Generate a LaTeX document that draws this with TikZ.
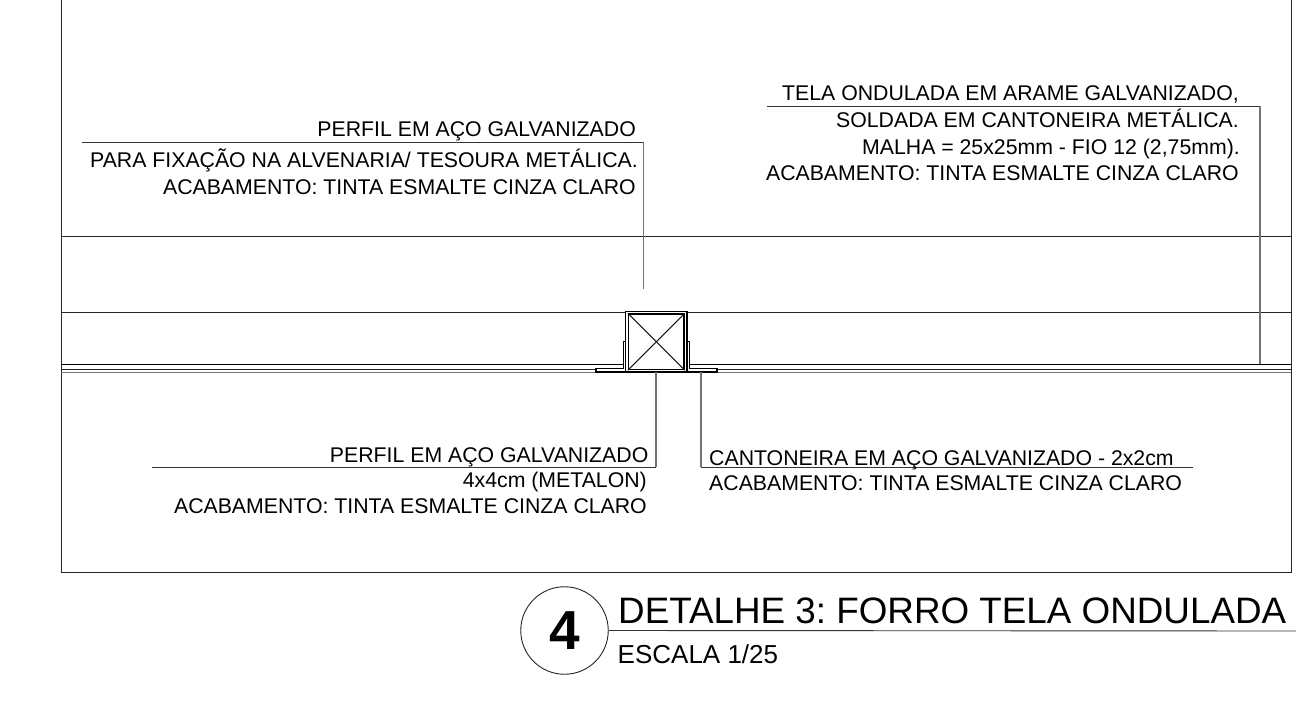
\documentclass[tikz,border=0pt]{standalone}
\usepackage{fontspec}
\setmainfont{Liberation Sans}
\frenchspacing
\tikzset{
  x=1pt,y=-1pt,
  note/.style={inner sep=0pt,font=\fontsize{21.27}{24}\selectfont,anchor=base east},
  noteL/.style={inner sep=0pt,font=\fontsize{21.27}{24}\selectfont,anchor=base west},
  thin line/.style={draw=black!85,line width=0.9pt},
  heavy line/.style={draw=black,line width=1.5pt},
  leader/.style={draw=black!55,line width=1.2pt},
  leaderh/.style={draw=black!80,line width=0.9pt},
}
\begin{document}
\begin{tikzpicture}
\useasboundingbox[fill=white] (0,0) rectangle (1306,701);
% frame
\coordinate (ftl) at (61,-2); \coordinate (fbl) at (61,572);
\coordinate (ftr) at (1291,-2); \coordinate (fbr) at (1291,572);
\draw[thin line,line width=1pt] (ftl) -- (fbl) -- (fbr) -- (ftr);
% horizontals
\draw[thin line] (61,236) -- (1291,236);
\draw[thin line] (61,312) -- (626,312);
\draw[thin line] (687,312) -- (1291,312);
\draw[heavy line,line width=1.1pt] (61,364.3) -- (623.5,364.3);
\draw[heavy line,line width=1.1pt] (689.5,364.3) -- (1291,364.3);
\draw[thin line] (61,369) -- (596,369);
\draw[thin line] (717,369) -- (1291,369);
\draw[leader,line width=1pt] (61,372) -- (596,372);
\draw[leader,line width=1pt] (717,372) -- (1291,372);
% profile
\node[draw=black,line width=1.1pt,minimum width=61.5pt,minimum height=60pt,inner sep=0pt] (outer) at (656.2,341.8) {};
\node[draw=black,line width=1.5pt,minimum width=55.5pt,minimum height=55.5pt,inner sep=0pt] (inner) at (656.4,341.7) {};
\draw[black!90,line width=1pt] (inner.north west) -- (inner.south east);
\draw[black!90,line width=1pt] (inner.north east) -- (inner.south west);
% angles
\draw[black,line width=1.1pt] (623.4,341.7) -- (626,341.7);
\draw[black,line width=1.1pt] (623.4,341.7) -- (623.4,368.5) -- (596,368.5) -- (596,372) -- (717,372) -- (717,368.5) -- (689.4,368.5) -- (689.4,341.7) -- (687,341.7);
% leaders
\coordinate (a1) at (82,142); \coordinate (a2) at (643.5,142); \coordinate (a3) at (643.5,289);
\draw[leaderh] (a1) -- (a2); \draw[leader] (a2) -- (a3);
\coordinate (b1) at (767,106); \coordinate (b2) at (1260,106); \coordinate (b3) at (1260,364);
\draw[leaderh] (b1) -- (b2); \draw[leader] (b2) -- (b3);
\coordinate (c1) at (152,467); \coordinate (c2) at (656,467); \coordinate (c3) at (656,372);
\draw[leaderh] (c1) -- (c2); \draw[leader] (c2) -- (c3);
\coordinate (d1) at (1193,467); \coordinate (d2) at (701,467); \coordinate (d3) at (701,372);
\draw[leaderh] (d1) -- (d2); \draw[leader] (d2) -- (d3);
% notes
\node[note] (t1) at (636,136) {PERFIL EM AÇO GALVANIZADO};
\node[note] (t2) at (638,167.5) {PARA FIXAÇÃO NA ALVENARIA/ TESOURA METÁLICA.};
\node[note] (t3) at (636,194) {ACABAMENTO: TINTA ESMALTE CINZA CLARO};
\node[note] (t4) at (1239,100.5) {TELA ONDULADA EM ARAME GALVANIZADO,};
\node[note] (t5) at (1239,127.5) {SOLDADA EM CANTONEIRA METÁLICA.};
\node[note] (t6) at (1240,154) {MALHA = 25x25mm - FIO 12 (2,75mm).};
\node[note] (t7) at (1239,180) {ACABAMENTO: TINTA ESMALTE CINZA CLARO};
\node[note] (t8) at (648.5,462.5) {PERFIL EM AÇO GALVANIZADO};
\node[note] (t9) at (647,487) {4x4cm (METALON)};
\node[note] (t10) at (647,513.5) {ACABAMENTO: TINTA ESMALTE CINZA CLARO};
\node[noteL] (t11) at (709,465) {CANTONEIRA EM AÇO GALVANIZADO - 2x2cm};
\node[noteL] (t12) at (709,490) {ACABAMENTO: TINTA ESMALTE CINZA CLARO};
% title
\node[draw=black!85,line width=0.9pt,circle,minimum size=87.5pt,inner sep=0pt,font=\fontsize{55}{55}\selectfont\bfseries] (c) at (564.5,630.5) {4};
\coordinate (tl) at (1296,631);
\draw[leaderh] (c.east) -- (tl);
\node[noteL,font=\fontsize{36.8}{40}\selectfont] (title) at (618,623) {DETALHE 3: FORRO TELA ONDULADA};
\node[noteL,font=\fontsize{26}{28}\selectfont] (scale) at (617.5,663) {ESCALA 1/25};
\end{tikzpicture}
\end{document}
